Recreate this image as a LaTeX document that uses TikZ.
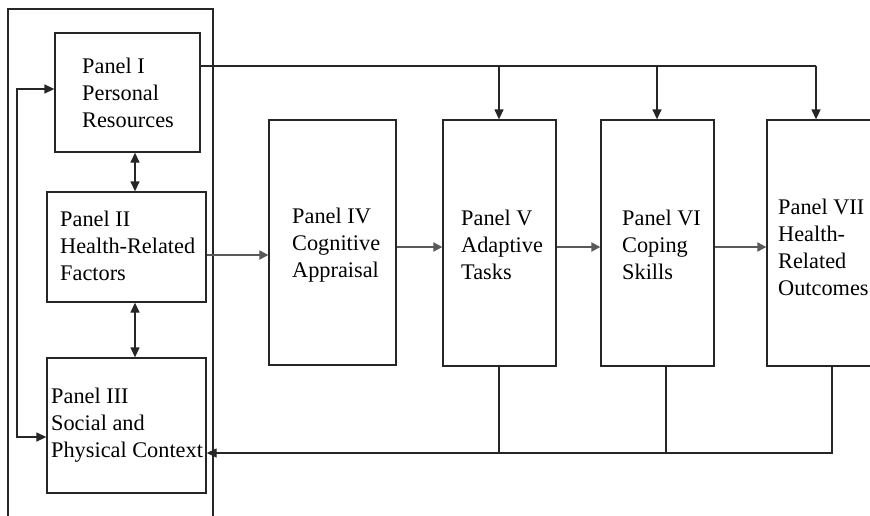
\documentclass[tikz,border=0pt]{standalone}
\usepackage{fontspec}
\setmainfont{Liberation Serif}
\usetikzlibrary{arrows.meta, positioning}

\tikzset{
  panel/.style={draw=black!85, line width=1.3pt, inner sep=0pt},
  lbl/.style={anchor=west, align=left, inner sep=0pt, font=\fontsize{22.3}{27}\selectfont},
  link/.style={draw=black!85, line width=1.3pt},
  flow/.style={draw=black!65, line width=2pt, -{Triangle[length=9pt,width=9pt]}},
  arr/.style={-{Triangle[length=10pt,width=9pt]}},
  arrs/.style={{Triangle[length=10pt,width=9pt]}-{Triangle[length=10pt,width=9pt]}},
}

\begin{document}
\begin{tikzpicture}[x=1pt,y=-1pt]
  \useasboundingbox[fill=white] (0,0) rectangle (870,515);

  % Outer frame round panels I-III
  \draw[link] (8,520) -- (8,9) -- (213,9) -- (213,520);

  % Panels I-III
  \node[panel, minimum width=145pt, minimum height=119pt] (p1) at (127.5,92.5) {};
  \node[lbl] (t1) at (82,92.5) {Panel I\\Personal\\Resources};

  \node[panel, minimum width=159pt, minimum height=110pt] (p2) at (126.5,247) {};
  \node[lbl] (t2) at (60,246) {Panel II\\Health-Related\\Factors};

  \node[panel, minimum width=159pt, minimum height=135pt] (p3) at (126.5,425.5) {};
  \node[lbl] (t3) at (51,425) {Panel III\\Social and\\Physical Context};

  % Panels IV-VII
  \node[panel, minimum width=127pt, minimum height=245pt] (p4) at (332.5,242.5) {};
  \node[lbl] (t4) at (292,245) {Panel IV\\Cognitive\\Appraisal};

  \node[panel, minimum width=113pt, minimum height=246pt] (p5) at (499.5,243) {};
  \node[lbl] (t5) at (461,245) {Panel V\\Adaptive\\Tasks};

  \node[panel, minimum width=113pt, minimum height=246pt] (p6) at (657.5,243) {};
  \node[lbl] (t6) at (622,245) {Panel VI\\Coping\\Skills};

  \node[panel, minimum width=113pt, minimum height=246pt] (p7) at (823.5,243) {};
  \node[lbl] (t7) at (778,247) {Panel VII\\Health-\\Related\\Outcomes};

  % Two-way links
  \coordinate (dx) at (135,0);
  \draw[link, arrs] (p1.south -| dx) -- (p2.north -| dx);
  \draw[link, arrs] (p2.south -| dx) -- (p3.north -| dx);

  % Left loop
  \coordinate (lp1) at (17,89);
  \coordinate (lp3) at (17,437);
  \draw[link, arrs] (p1.west |- lp1) -- (lp1) -- (lp3) -- (p3.west |- lp3);

  % Top feed from Panel I
  \coordinate (topR) at (816,66);
  \coordinate (c5) at (499,0);
  \coordinate (c6) at (657,0);
  \draw[link] (p1.east |- topR) -- (topR);
  \draw[link, arr] (c5 |- topR) -- (c5 |- p5.north);
  \draw[link, arr] (c6 |- topR) -- (c6 |- p6.north);
  \draw[link, arr] (topR) -- (topR |- p7.north);

  % Forward flow
  \coordinate (f2) at (0,255);
  \coordinate (f4) at (0,247);
  \draw[flow] (p2.east |- f2) -- (p4.west |- f2);
  \draw[flow] (p4.east |- f4) -- (p5.west |- f4);
  \draw[flow] (p5.east |- f4) -- (p6.west |- f4);
  \draw[flow] (p6.east |- f4) -- (p7.west |- f4);

  % Feedback to Panel III
  \coordinate (fb) at (0,453);
  \coordinate (b6) at (666,0);
  \coordinate (b7) at (832,0);
  \draw[link] (p5.south -| c5) -- (c5 |- fb);
  \draw[link] (p6.south -| b6) -- (b6 |- fb);
  \draw[link, arr] (p7.south -| b7) |- (p3.east |- fb);
\end{tikzpicture}
\end{document}
